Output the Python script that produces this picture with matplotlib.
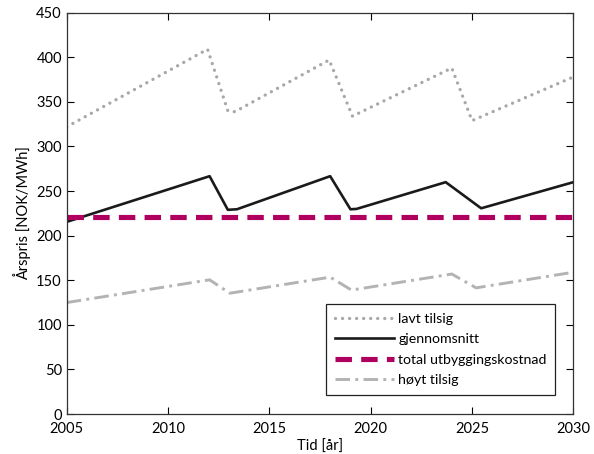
import matplotlib as mpl
import matplotlib.pyplot as plt

mpl.rcParams.update({
    "font.family": ["Lato", "DejaVu Sans"],
    "font.size": 10.5,
    "axes.linewidth": 0.9,
    "axes.edgecolor": "#333333",
    "xtick.direction": "in",
    "ytick.direction": "in",
    "xtick.top": True,
    "ytick.right": True,
    "xtick.major.size": 5,
    "ytick.major.size": 5,
    "xtick.major.pad": 5.5,
})

# Break points (year, price) for each inflow scenario
lavt_year = [2005, 2011.95, 2012.95, 2013.3, 2017.95, 2019.1, 2024.0, 2025.0, 2030]
lavt_pris = [322, 409, 340, 339, 397, 334, 388, 329, 378]

snitt_year = [2005, 2012.05, 2012.95, 2013.4, 2018.0, 2019.0, 2019.3, 2023.7, 2025.45, 2030]
snitt_pris = [215.5, 266.7, 229, 229.6, 266.7, 229.6, 230, 260, 230.7, 260]

kost_year = [2005, 2030]
kost_pris = [221, 221]

hoyt_year = [2005, 2012.05, 2013.05, 2018.0, 2019.05, 2024.0, 2025.2, 2030]
hoyt_pris = [125, 150.5, 135.5, 153.5, 139, 157, 141.5, 159]

x_ticks = [2005, 2010, 2015, 2020, 2025, 2030]
y_ticks = list(range(0, 451, 50))

fig = plt.figure(figsize=(5.94, 4.54), dpi=100)
ax = fig.add_axes([0.1123, 0.088, 0.853, 0.884])

ax.plot(lavt_year, lavt_pris, color="#A8A8A8", lw=2.4, ls=(0, (0.01, 2.1)),
        dash_capstyle="round", label="lavt tilsig")
ax.plot(snitt_year, snitt_pris, color="#1A1A1A", lw=1.9, label="gjennomsnitt")
ax.plot(kost_year, kost_pris, color="#B0005F", lw=3.7, ls=(0, (3.2, 1.8)),
        label="total utbyggingskostnad")
ax.plot(hoyt_year, hoyt_pris, color="#B3B3B3", lw=2.1, ls=(0, (5, 1.8, 1, 1.8)),
        label="høyt tilsig")

ax.set_xlim(2005, 2030)
ax.set_ylim(0, 450)
ax.set_xticks(x_ticks)
ax.set_yticks(y_ticks)
ax.set_xlabel("Tid [år]", labelpad=3)
ax.set_ylabel("Årspris [NOK/MWh]", labelpad=4)

leg = ax.legend(loc="lower right", bbox_to_anchor=(0.978, 0.03), fancybox=False,
                framealpha=1, edgecolor="#222222", handlelength=4.2,
                handletextpad=0.3, borderpad=0.6, labelspacing=0.6,
                fontsize=10.2)
leg.get_frame().set_linewidth(0.9)

fig.savefig("out.png", dpi=100)
